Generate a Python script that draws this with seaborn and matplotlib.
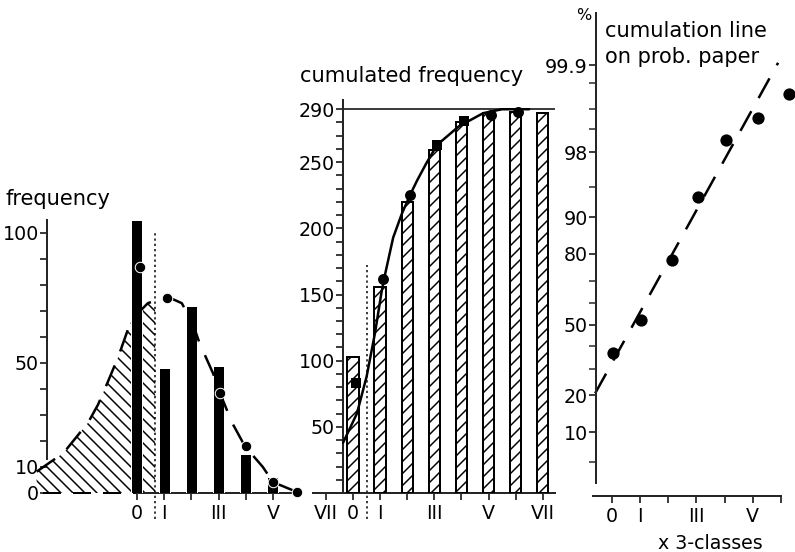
import matplotlib
matplotlib.use("Agg")
import matplotlib.pyplot as plt
import numpy as np
import pandas as pd
import seaborn as sns
from statistics import NormalDist

# left panel: frequency per class
classes = [0, 1, 2, 3, 4, 5]
freq = [105, 48, 72, 49, 15, 6]
fit_classes = [0.1, 1.1, 3.05, 4.0, 5.0, 5.9]
fit_freq = [87, 75, 38.5, 18, 4.2, 0.4]
curve_x = [-3.69, -2.7, -1.8, -1.43, -1.1, -0.7, -0.26, -0.07, 0.4, 0.67, 1.14,
           1.65, 2.06, 2.3, 2.8, 3.05, 3.5, 3.97, 4.63, 5.0, 5.88]
curve_y = [8.2, 15.4, 27, 34, 42, 52, 65, 68, 73, 74, 75.4,
           73, 65, 57.7, 46, 38.5, 27, 18, 10, 4.2, 0.4]
split_class = 0.67

# middle panel: cumulated frequency
cum_classes = [0, 1, 2, 3, 4, 5, 6, 7]
cum_freq = [103, 156, 220, 259, 280, 287, 288, 287]
cum_dot_classes = [0.1, 1.1, 2.1, 3.1, 4.1, 5.1, 6.1]
cum_dot_freq = [83, 162, 225, 263, 281, 286, 288]
cum_curve_x = [-0.37, 0.14, 0.5, 0.81, 1.06, 1.2, 1.48, 1.8, 2.1, 2.36, 2.7,
               3.1, 3.9, 4.8, 5.5, 6.5]
cum_curve_y = [38, 60, 88, 121, 153, 167, 193, 211, 225, 236, 249,
               263, 277, 287, 290, 290]
total = 290
cum_split = 0.52

# right panel: cumulation on probability paper (%)
prob_classes = [0.04, 1.03, 2.13, 3.05, 4.04, 5.18, 6.28]
prob_pct = [36.9, 52.2, 78.0, 93.6, 98.6, 99.3, 99.7]
line_x = [-0.6, 5.9]
line_pct = [20.6, 99.91]

roman = ["VII", "0", "I", "", "III", "", "V", "", "VII"]

sns.set_style("ticks")
plt.rcParams["font.family"] = ["DejaVu Sans"]
plt.rcParams["text.color"] = "black"
plt.rcParams["hatch.linewidth"] = 1.5
plt.rcParams["axes.linewidth"] = 2

W, H = 795, 552
fig = plt.figure(figsize=(W / 72, H / 72), dpi=72)


def place(x0, x1, y0, y1):
    return fig.add_axes([x0 / W, 1 - y1 / H, (x1 - x0) / W, (y1 - y0) / H])


def style(ax):
    ax.set_facecolor("none")
    for s in ("top", "right"):
        ax.spines[s].set_visible(False)
    ax.tick_params(direction="out", length=7, width=1.5, labelsize=19, colors="black")
    ax.tick_params(axis="y", pad=1)
    ax.tick_params(axis="x", pad=4)
    ax.set_xlabel("")
    ax.set_ylabel("")


dash = (0, (9, 6))

# ---------- left ----------
ax1 = place(20, 305, 207, 493)
sns.barplot(x=classes, y=freq, native_scale=True, width=0.4, color="black",
            saturation=1, errorbar=None, ax=ax1, zorder=3)
cx = np.array(curve_x)
cy = np.array(curve_y)
m = cx <= split_class
ax1.fill_between(cx[m], 0, cy[m], facecolor="none", edgecolor="black",
                 linewidth=0, hatch="\\\\", clip_on=False, zorder=2)
sns.lineplot(x=curve_x, y=curve_y, color="black", lw=2.5, linestyle=dash,
             ax=ax1, clip_on=False, zorder=4)
sns.scatterplot(x=fit_classes, y=fit_freq, color="black", s=110,
                edgecolor="white", linewidth=1, ax=ax1, clip_on=False, zorder=5)
ax1.vlines(split_class, -10, 100, colors="black", linestyles=(0, (1.5, 2)),
           lw=1.5, clip_on=False)
ax1.hlines(0, -3.45, 0, colors="black", linestyles=dash, lw=2, clip_on=False)
ax1.set_xlim(-4.30, 6.18)
ax1.set_ylim(0, 110)
style(ax1)
ax1.spines["left"].set_position(("data", -3.31))
ax1.spines["left"].set_bounds(13, 105)
ax1.spines["bottom"].set_bounds(0, 5.9)
ax1.set_yticks(range(0, 101, 10),
               ["0", "10", "", "", "", "50", "", "", "", "", "100"])
ax1.set_xticks(classes, ["0", "I", "", "III", "", "V"])

# ---------- middle ----------
ax2 = place(313, 560, 96, 493)
sns.barplot(x=cum_classes, y=cum_freq, native_scale=True, width=0.42,
            color="white", edgecolor="black", linewidth=2, saturation=1,
            errorbar=None, ax=ax2, zorder=3)
for p in ax2.patches:
    p.set_hatch("//")
ax2.hlines(total, -0.37, 7.45, colors="black", lw=1.5, zorder=2)
sns.lineplot(x=cum_curve_x, y=cum_curve_y, color="black", lw=2.5, ax=ax2, zorder=4)
sq = [0, 3, 4]
ci = [i for i in range(len(cum_dot_classes)) if i not in sq]
sns.scatterplot(x=[cum_dot_classes[i] for i in ci], y=[cum_dot_freq[i] for i in ci],
                color="black", s=120, linewidth=0, ax=ax2, zorder=5)
sns.scatterplot(x=[cum_dot_classes[i] for i in sq], y=[cum_dot_freq[i] for i in sq],
                color="black", marker="s", s=100, linewidth=0, ax=ax2, zorder=5)
ax2.vlines(cum_split, -20, 172, colors="black", linestyles=(0, (1.5, 2)),
           lw=1.5, clip_on=False)
ax2.set_xlim(-1.48, 7.64)
ax2.set_ylim(0, 300)
style(ax2)
ax2.spines["left"].set_position(("data", -0.37))
ax2.spines["left"].set_bounds(0, 297)
ax2.spines["bottom"].set_bounds(-1.48, 7.45)
yt = list(range(10, 300, 10))
ax2.set_yticks(yt, [str(v) if v in (50, 100, 150, 200, 250, 290) else "" for v in yt])
ax2.set_xticks(range(-1, 8), roman)

# ---------- right ----------
nd = NormalDist()


def probit(p):
    p = np.asarray(p, dtype=float)
    out = [nd.inv_cdf(min(max(v / 100, 1e-9), 1 - 1e-9)) if np.isfinite(v) else np.nan
           for v in p.ravel()]
    return np.array(out).reshape(p.shape)


def cdf(z):
    z = np.asarray(z, dtype=float)
    out = [nd.cdf(v) * 100 if np.isfinite(v) else np.nan for v in z.ravel()]
    return np.array(out).reshape(z.shape)


ax3 = place(596, 795, 8, 483)
ax3.set_yscale("function", functions=(probit, cdf))
sns.lineplot(x=line_x, y=line_pct, color="black", lw=2.5, linestyle=(0, (9, 6)),
             ax=ax3, clip_on=False)
sns.scatterplot(x=prob_classes, y=prob_pct, color="black", s=150, linewidth=0,
                ax=ax3, clip_on=False, zorder=5)
ax3.set_xlim(-0.57, 6.5)
ax3.set_ylim(2.94, 99.992)
style(ax3)
ax3.spines["left"].set_bounds(2.94, 99.99)
ax3.spines["bottom"].set_position(("outward", 13))
ax3.spines["bottom"].set_bounds(-0.68, 6.0)
ax3.set_yticks([10, 20, 50, 80, 90, 98, 99.9],
               ["10", "20", "50", "80", "90", "98", "99.9"])
ax3.set_yticks([5, 30, 40, 60, 70, 95, 99, 99.5, 99.8], minor=True)
ax3.tick_params(which="minor", direction="out", length=7, width=1.5)
ax3.set_xticks(range(0, 7), ["0", "I", "", "III", "", "V", ""])

# texts
fig.text(5 / W, 1 - 205 / H, "frequency", fontsize=21, va="baseline")
fig.text(300 / W, 1 - 82 / H, "cumulated frequency", fontsize=21, va="baseline")
fig.text(605 / W, 1 - 37 / H, "cumulation line", fontsize=21, va="baseline")
fig.text(605 / W, 1 - 63 / H, "on prob. paper", fontsize=21, va="baseline")
fig.text(576 / W, 1 - 20 / H, "%", fontsize=16, va="baseline")
fig.text(658 / W, 1 - 549 / H, "x 3-classes", fontsize=19, va="baseline")

fig.savefig("out.png", dpi=72)
